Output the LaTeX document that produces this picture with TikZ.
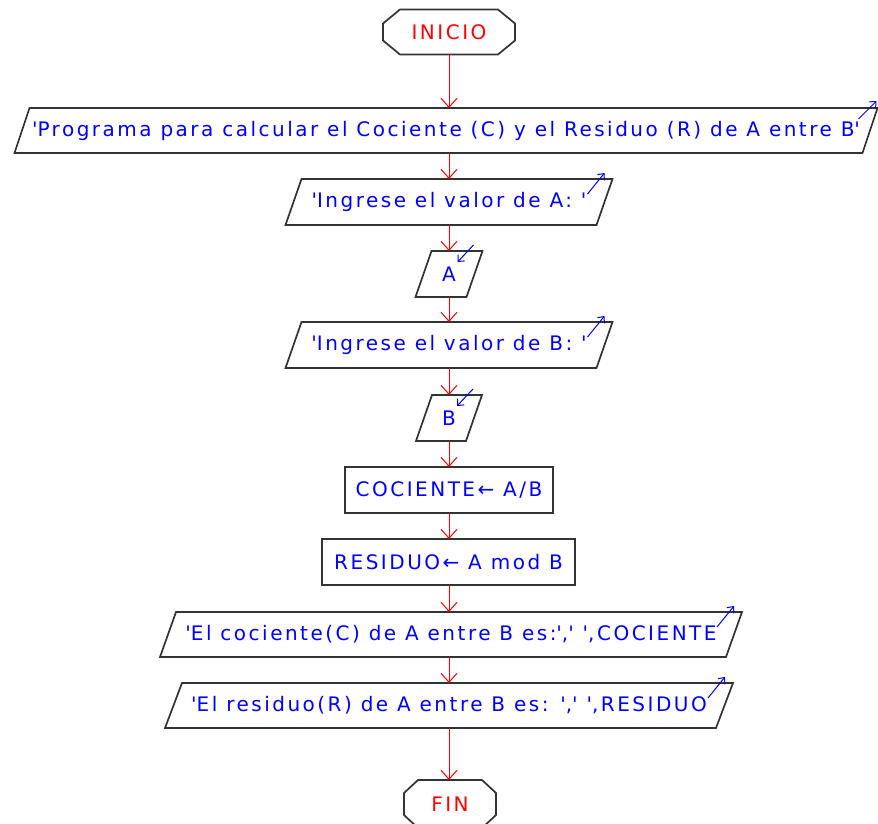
\documentclass[tikz,border=0pt]{standalone}
\usepackage{fontspec}
\setmainfont{DejaVu Sans}[LetterSpace=12.5,Ligatures=TeXOff]
\usetikzlibrary{arrows.meta,calc}
\newcommand\pgram[2]{\draw[shp] ([xshift=#2]#1.north west) -- ([xshift=#2]#1.north east) -- ([xshift=-#2]#1.south east) -- ([xshift=-#2]#1.south west) -- cycle;}
\newcommand\octo[3]{\draw[shp] ([xshift=#2]#1.north west) -- ([xshift=-#2]#1.north east) -- ([yshift=-#3]#1.north east) -- ([yshift=#3]#1.south east) -- ([xshift=-#2]#1.south east) -- ([xshift=#2]#1.south west) -- ([yshift=#3]#1.south west) -- ([yshift=-#3]#1.north west) -- cycle;}
\newcommand\outico[2]{\draw[ico] ($(#1.north east)+(#2-25,15)$) -- ($(#1.north east)+(#2-8,-6)$);}
\newcommand\inico[2]{\draw[ico] ($(#1.north east)+(#2-9,-6)$) -- ($(#1.north east)+(#2-25,11)$);}
\begin{document}
\begin{tikzpicture}[x=1pt,y=-1pt,
  txt/.style={font=\fontsize{20}{22}\selectfont, text=blue, inner sep=0pt, outer sep=0pt},
  box/.style={txt, minimum width=#1, minimum height=46pt},
  term/.style={txt, text=red, minimum width=#1, minimum height=45pt},
  shp/.style={draw=black!80, line width=1.7pt},
  conn/.style={draw=red, line width=1pt, -{Straight Barb[length=9pt,width=16pt]}},
  ico/.style={draw=blue, line width=1pt, -{Straight Barb[length=5pt,width=9pt]}}]
\fill[white] (0,0) rectangle (878,824);
\useasboundingbox (0,0) rectangle (878,824);
\node[term=132pt] (ini) at (449,32) {INICIO};
\node[box=848pt, minimum height=45pt] (p1) at (446,130.5) {\textquotesingle Programa para calcular el Cociente (C) y el Residuo (R) de A entre B\textquotesingle};
\node[box=311pt] (p2) at (449,202) {\textquotesingle Ingrese el valor de A: \textquotesingle};
\node[box=51pt] (a) at (449,274) {A};
\node[box=311pt] (p3) at (449,345) {\textquotesingle Ingrese el valor de B: \textquotesingle};
\node[box=50pt] (b) at (449,418) {B};
\node[box=208pt] (coc) at (449,490) {COCIENTE← A/B};
\node[box=253pt] (res) at (448.5,562) {RESIDUO← A mod B};
\node[box=566pt, minimum height=45pt] (pc) at (451,634.5) {\textquotesingle El cociente(C) de A entre B es:\textquotesingle,\textquotesingle{} \textquotesingle,COCIENTE};
\node[box=551pt, minimum height=45pt] (pr) at (449,705.5) {\textquotesingle El residuo(R) de A entre B es: \textquotesingle,\textquotesingle{} \textquotesingle,RESIDUO};
\node[term=92pt, minimum height=48pt] (fin) at (450,804) {FIN};
\octo{ini}{17pt}{14pt}
\octo{fin}{14pt}{13pt}
\pgram{p1}{7.5pt}
\pgram{p2}{8pt}
\pgram{a}{8pt}
\pgram{p3}{8pt}
\pgram{b}{8pt}
\draw[shp] (coc.north west) rectangle (coc.south east);
\draw[shp] (res.north west) rectangle (res.south east);
\pgram{pc}{8pt}
\pgram{pr}{8.5pt}
\draw[conn] (ini.south) -- (ini.south |- p1.north);
\draw[conn] (ini.south |- p1.south) -- (ini.south |- p2.north);
\draw[conn] (p2.south) -- (a.north);
\draw[conn] (a.south) -- (p3.north);
\draw[conn] (p3.south) -- (b.north);
\draw[conn] (b.south) -- (coc.north);
\draw[conn] (coc.south) -- (coc.south |- res.north);
\draw[conn] (coc.south |- res.south) -- (coc.south |- pc.north);
\draw[conn] (coc.south |- pc.south) -- (coc.south |- pr.north);
\draw[conn] (coc.south |- pr.south) -- (coc.south |- fin.north);
\draw[ico] ($(p1.north east)+(7.5-19,11)$) -- ($(p1.north east)+(7.5-1,-7)$);
\outico{p2}{8}
\outico{p3}{8}
\outico{pc}{8}
\outico{pr}{8.5}
\inico{a}{8}
\inico{b}{8}
\end{tikzpicture}
\end{document}
